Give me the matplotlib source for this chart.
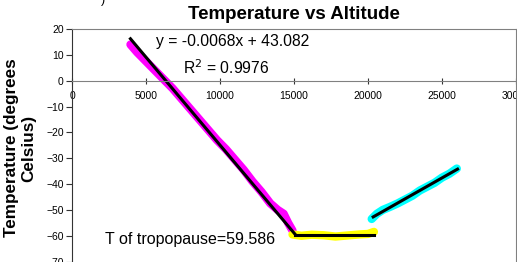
import numpy as np
import matplotlib
matplotlib.use('Agg')
import matplotlib.pyplot as plt

plt.rcParams['font.family'] = ['Liberation Sans', 'DejaVu Sans']

# troposphere readings (magenta)
trop_alt = [3950, 4400, 5000, 5600, 6200, 6800, 7400, 8000, 8600, 9200, 9800,
            10400, 11000, 11600, 12200, 12800, 13400, 13900, 14300, 14600, 14900]
trop_temp = [14.0, 11.0, 7.5, 4.0, 0.5, -3.0, -7.0, -11.0, -15.0, -19.0, -23.0,
             -26.5, -30.5, -34.5, -39.0, -43.0, -47.5, -50.0, -51.5, -55.0, -58.0]

# tropopause readings (yellow)
pause_alt = [14900, 15500, 16200, 17000, 17800, 18600, 19400, 20000, 20400]
pause_temp = [-59.5, -60.0, -59.6, -59.8, -60.3, -59.9, -59.5, -59.3, -58.5]

# stratosphere readings (cyan)
strat_alt = [20250, 20600, 21000, 21500, 22000, 22500, 23000, 23500, 24000,
             24500, 25000, 25500, 26000]
strat_temp = [-53.5, -51.5, -50.0, -48.8, -47.5, -46.0, -44.5, -42.5, -41.0,
              -39.5, -37.5, -36.0, -34.0]

slope = -0.0068
intercept = 43.082
t_pause = -59.586

fig = plt.figure(figsize=(5.17, 2.62), dpi=100)
ax = fig.add_axes([72/517, 0.4/262, 444/517, 232.6/262])

ax.plot(trop_alt, trop_temp, color='#FF00FF', lw=6, solid_capstyle='round')
ax.plot(pause_alt, pause_temp, color='#FFFF00', lw=6, solid_capstyle='round')
ax.plot(strat_alt, strat_temp, color='#00FFFF', lw=6, solid_capstyle='round')

# trend lines
x_meet = (t_pause - intercept) / slope
fx = np.array([trop_alt[0], x_meet])
ax.plot(fx, slope * fx + intercept, color='black', lw=2.2)
ax.plot([x_meet, pause_alt[-1]], [t_pause, t_pause], color='black', lw=2.2)
p = np.polyfit(strat_alt, strat_temp, 1)
sx = np.array([strat_alt[0] + 100, strat_alt[-1] + 50])
ax.plot(sx, np.polyval(p, sx), color='black', lw=2.2)

ax.set_xlim(0, 30000)
ax.set_ylim(-70, 20)
ax.set_xticks(range(0, 30001, 5000))
ax.set_yticks(range(-70, 21, 10))
ax.spines['bottom'].set_position(('data', 0))
ax.spines['bottom'].set_color('#808080')
ax.spines['top'].set_color('#808080')
ax.spines['right'].set_color('#808080')
ax.spines['left'].set_color('#333333')
ax.tick_params(axis='x', direction='inout', length=5, labelsize=7.5, pad=5, color='#333333')
ax.tick_params(axis='y', direction='out', length=4, labelsize=7.5, pad=2, color='#333333')

ax.set_title('Temperature vs Altitude', fontsize=13.5, fontweight='bold', pad=7)
ax.text(5700, 15.0, 'y = -0.0068x + 43.082', fontsize=11.3, va='center')
ax.text(7500, 5.0, 'R$^2$ = 0.9976', fontsize=11.3, va='center')
ax.text(2250, -61.6, 'T of tropopause=59.586', fontsize=11.5, va='center')

fig.text(20/517, 1 - 148/262, 'Temperature (degrees\nCelsius)', rotation=90,
         fontsize=12.3, fontweight='bold', ha='center', va='center',
         multialignment='center', linespacing=1.15)
fig.text(103/517, 1.0, ')', fontsize=9, ha='center', va='center')

fig.savefig('out.png', dpi=100)
